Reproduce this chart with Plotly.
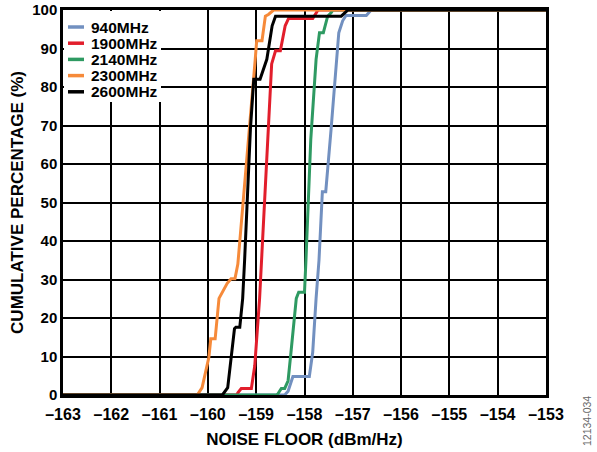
import plotly.graph_objects as go

# cumulative noise floor distributions
labels = ["940MHz", "1900MHz", "2140MHz", "2300MHz", "2600MHz"]
colors = ["#7290C0", "#E21E2C", "#2E9A62", "#F68A3A", "#000000"]

x_940 = [-163, -158.41, -158.34, -158.24, -157.90, -157.83, -157.76, -157.70, -157.63,
         -157.56, -157.45, -157.34, -157.29, -157.21, -157.14, -156.72, -156.62, -153]
y_940 = [0, 0, 1, 4.8, 4.8, 11.1, 25.1, 35, 52.8,
         52.8, 69, 87.2, 94.1, 97.2, 98.6, 98.6, 100, 100]

x_1900 = [-163, -159.40, -159.38, -159.31, -159.10, -159.03, -158.93, -158.83, -158.75,
          -158.68, -158.60, -158.50, -158.40, -158.33, -157.83, -157.72, -153]
y_1900 = [0, 0, 0.6, 1.7, 1.7, 7.6, 25, 50, 69,
          86, 89.4, 89.4, 95.9, 97.8, 97.8, 100, 100]

x_2140 = [-163, -158.58, -158.55, -158.48, -158.41, -158.34, -158.28, -158.17, -158.12,
          -158.00, -157.97, -157.87, -157.76, -157.69, -157.61, -157.52, -157.45, -157.41, -153]
y_2140 = [0, 0, 0.3, 1.7, 1.7, 3.7, 11.1, 25.1, 26.7,
          26.7, 35, 66.4, 87.2, 94.1, 94.1, 98.4, 99.3, 100, 100]

x_2300 = [-163, -160.22, -160.12, -159.98, -159.94, -159.85, -159.77, -159.70, -159.60, -159.52,
          -159.44, -159.38, -159.15, -159.02, -158.99, -158.88, -158.81, -158.74, -158.64, -153]
y_2300 = [0, 0, 1.9, 9.8, 14.6, 14.6, 25.1, 26.7, 29, 30.2,
          30.2, 34, 66.6, 87.2, 92, 92, 98.4, 98.9, 100, 100]

x_2600 = [-163, -159.70, -159.59, -159.52, -159.45, -159.42, -159.34, -159.28, -159.24,
          -159.12, -159.05, -158.92, -158.78, -158.67, -158.60, -157.24, -157.10, -153]
y_2600 = [0, 0, 1.9, 9.3, 17.2, 17.6, 17.6, 25.1, 35,
          69, 82, 82, 87.2, 95.9, 98.4, 98.4, 100, 100]

x_ticks = list(range(-163, -152))
x_ticktext = ["\u2013" + str(abs(v)) for v in x_ticks]
y_ticks = list(range(0, 101, 10))

FONT = "Arial, Liberation Sans, sans-serif"
W, H = 597, 452
ML, MR, MT, MB = 63, 51, 10, 57
PW, PH = W - ML - MR, H - MT - MB


def px(x):
    # pixel column -> paper x
    return (x - ML) / PW


def py(y):
    # pixel row -> paper y
    return (H - MB - y) / PH


series = [(x_940, y_940), (x_1900, y_1900), (x_2140, y_2140), (x_2300, y_2300), (x_2600, y_2600)]

fig = go.Figure()
for (xs, ys), name, col in zip(series, labels, colors):
    fig.add_trace(go.Scatter(x=xs, y=ys, mode="lines", name=name,
                             line=dict(color=col, width=3), showlegend=False))

# legend drawn by hand so the rows can sit as tightly as in the original
shapes = [dict(type="rect", xref="paper", yref="paper", x0=px(64), x1=px(161),
               y0=py(102), y1=py(11), fillcolor="white", line=dict(width=0), layer="above")]
annotations = []
for i, (name, col) in enumerate(zip(labels, colors)):
    row = 27 + i * 16.2
    shapes.append(dict(type="line", xref="paper", yref="paper", x0=px(68), x1=px(84),
                       y0=py(row), y1=py(row), line=dict(color=col, width=3.5), layer="above"))
    annotations.append(dict(text=name, x=px(89), y=py(row), xref="paper", yref="paper",
                            xanchor="left", yanchor="middle", showarrow=False,
                            font=dict(size=15.5, weight="bold", color="black")))

annotations.append(dict(text="12134-034", x=px(587), y=py(421), xref="paper", yref="paper",
                        xanchor="center", yanchor="middle", showarrow=False, textangle=-90,
                        font=dict(size=10.5, color="#666666", weight="normal")))

fig.update_layout(
    width=W, height=H,
    margin=dict(l=ML, r=MR, t=MT, b=MB, autoexpand=False),
    paper_bgcolor="white",
    plot_bgcolor="white",
    font=dict(family=FONT, size=14, color="black", weight="bold"),
    shapes=shapes,
    annotations=annotations,
)

fig.update_xaxes(
    range=[-163, -153], tickvals=x_ticks, ticktext=x_ticktext,
    showgrid=True, gridcolor="black", gridwidth=1.5,
    showline=True, linecolor="black", linewidth=2.5, mirror=True,
    ticks="", zeroline=False, automargin=False, ticklabelstandoff=3,
    ticklabeloverflow="allow",
    tickfont=dict(size=16, weight="bold"),
    title=dict(text="NOISE FLOOR (dBm/Hz)", font=dict(size=17, weight="bold"), standoff=12),
)
fig.update_yaxes(
    range=[0, 100], tickvals=y_ticks,
    showgrid=True, gridcolor="black", gridwidth=1.5,
    showline=True, linecolor="black", linewidth=2.5, mirror=True,
    ticks="", zeroline=False, automargin=False,
    ticklabeloverflow="allow",
    tickfont=dict(size=15, weight="bold"),
    title=dict(text="CUMULATIVE PERCENTAGE (%)", font=dict(size=17, weight="bold"), standoff=5),
)

# drop the default 8px body margin so the figure fills the window exactly
fig.write_html("out.html", config={"displayModeBar": False},
               post_script="document.body.style.margin='0';")
